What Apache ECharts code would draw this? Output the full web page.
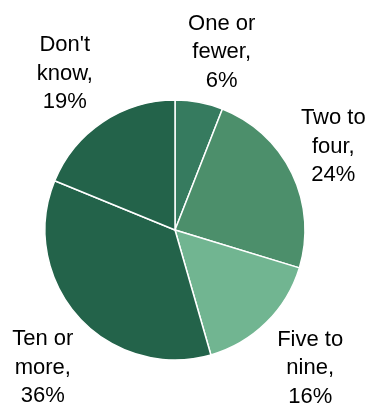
<!DOCTYPE html>
<html>
<head>
<meta charset="utf-8">
<script src="https://cdn.jsdelivr.net/npm/echarts@6/dist/echarts.min.js"></script>
<style>
html,body{margin:0;padding:0;background:#fff;}
#chart{width:366px;height:408px;}
</style>
</head>
<body>
<div id="chart"></div>
<script>
// Data
const categories = ["One or fewer", "Two to four", "Five to nine", "Ten or more", "Don't know"];
const labelTexts = ["One or\nfewer,", "Two to\nfour,", "Five to\nnine,", "Ten or\nmore,", "Don't\nknow,"];
const values = [6, 24, 16, 36, 19];

// Style
const colors = ["#367B5F", "#4C8F6B", "#71B591", "#23634A", "#23634A"];
const CX = 175, CY = 230, RADIUS = 130, LABEL_R = 187;
const labelNudge = [[12, 6], [-10, -2], [4, 5], [7, 13], [-6, -1]];

const total = values.reduce((a, b) => a + b, 0);
function midAngle(i) {
  let cum = 0;
  for (let k = 0; k < i; k++) cum += values[k];
  return ((cum + values[i] / 2) / total) * 2 * Math.PI;
}

const chart = echarts.init(document.getElementById('chart'), null, {renderer: 'canvas'});
chart.setOption({
  animation: false,
  backgroundColor: '#ffffff',
  series: [{
    type: 'pie',
    center: [CX, CY],
    radius: [0, RADIUS],
    startAngle: 90,
    clockwise: true,
    avoidLabelOverlap: false,
    data: categories.map((c, i) => ({
      name: c,
      value: values[i],
      itemStyle: {color: colors[i]}
    })),
    itemStyle: {borderColor: '#ffffff', borderWidth: 1.5},
    label: {
      show: true,
      position: 'outside',
      formatter: p => labelTexts[p.dataIndex] + '\n' + p.value + '%',
      fontFamily: 'Liberation Sans, Arial, sans-serif',
      fontSize: 22,
      lineHeight: 28.5,
      color: '#000000',
      align: 'center'
    },
    labelLine: {show: false},
    labelLayout: function (params) {
      const i = params.dataIndex;
      const a = midAngle(i);
      return {
        x: CX + LABEL_R * Math.sin(a) + labelNudge[i][0],
        y: CY - LABEL_R * Math.cos(a) + labelNudge[i][1],
        align: 'center',
        verticalAlign: 'middle'
      };
    },
    emphasis: {disabled: true}
  }]
});
</script>
</body>
</html>
